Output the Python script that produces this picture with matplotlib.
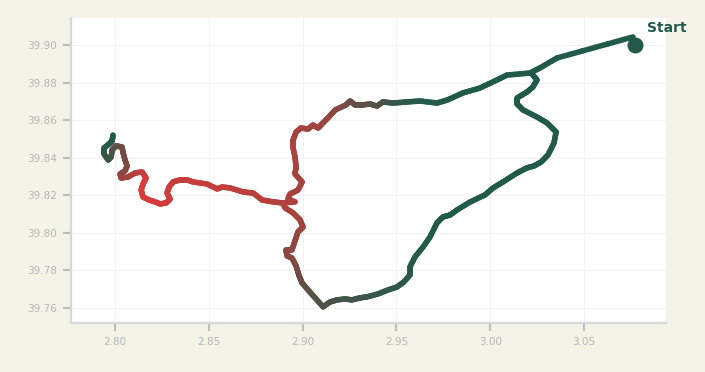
import numpy as np
import matplotlib
matplotlib.use("Agg")
import matplotlib.pyplot as plt
from matplotlib.collections import LineCollection
from matplotlib.colors import LinearSegmentedColormap

# ---- data: route traced as two polylines (lon, lat, colour value) ----
main_lon = [3.0761, 3.0356, 3.0265, 3.0212, 3.0089, 3.0036, 2.9945, 2.9855, 2.9770, 2.9716,
            2.9626, 2.9556, 2.9482, 2.9428, 2.9396, 2.9359, 2.9317, 2.9279, 2.9253, 2.9231,
            2.9173, 2.9135, 2.9103, 2.9082, 2.9055, 2.9029, 2.8991, 2.8965, 2.8949, 2.8949,
            2.8959, 2.8965, 2.8959, 2.8997, 2.8975, 2.8933, 2.8922, 2.8959, 2.8895, 2.8842,
            2.8784, 2.8736, 2.8682, 2.8613, 2.8570, 2.8544, 2.8490, 2.8416, 2.8384, 2.8346,
            2.8309, 2.8288, 2.8277, 2.8293, 2.8272, 2.8240, 2.8213, 2.8181, 2.8149, 2.8139,
            2.8149, 2.8165, 2.8144, 2.8107, 2.8069, 2.8032, 2.8027, 2.8053, 2.8064, 2.8053,
            2.8043, 2.8037, 2.8005, 2.7984, 2.7979, 2.7963, 2.7941, 2.7941, 2.7968, 2.7984,
            2.7989]
main_lat = [39.9043, 39.8931, 39.8878, 39.8851, 39.8840, 39.8814, 39.8771, 39.8745, 39.8707, 39.8691,
            39.8702, 39.8697, 39.8691, 39.8697, 39.8675, 39.8686, 39.8681, 39.8681, 39.8702, 39.8681,
            39.8654, 39.8612, 39.8580, 39.8558, 39.8574, 39.8553, 39.8558, 39.8537, 39.8494, 39.8452,
            39.8404, 39.8351, 39.8314, 39.8271, 39.8228, 39.8207, 39.8180, 39.8165, 39.8159, 39.8165,
            39.8175, 39.8212, 39.8218, 39.8239, 39.8244, 39.8234, 39.8260, 39.8271, 39.8282, 39.8282,
            39.8271, 39.8244, 39.8212, 39.8180, 39.8159, 39.8154, 39.8165, 39.8175, 39.8191, 39.8228,
            39.8260, 39.8292, 39.8324, 39.8319, 39.8297, 39.8292, 39.8314, 39.8330, 39.8356, 39.8388,
            39.8425, 39.8457, 39.8463, 39.8441, 39.8404, 39.8388, 39.8420, 39.8452, 39.8473, 39.8489,
            39.8521]
main_val = [0.00, 0.00, 0.00, 0.00, 0.00, 0.00, 0.00, 0.00, 0.00, 0.00,
            0.02, 0.05, 0.10, 0.15, 0.28, 0.30, 0.33, 0.36, 0.40, 0.42,
            0.55, 0.60, 0.64, 0.66, 0.67, 0.68, 0.70, 0.70, 0.71, 0.72,
            0.72, 0.72, 0.72, 0.70, 0.70, 0.72, 0.73, 0.74, 0.76, 0.78,
            0.80, 0.82, 0.84, 0.85, 0.86, 0.86, 0.87, 0.88, 0.88, 0.88,
            0.88, 0.90, 0.92, 0.93, 0.94, 0.94, 0.95, 0.96, 0.97, 0.98,
            0.98, 0.97, 0.90, 0.82, 0.75, 0.68, 0.62, 0.56, 0.52, 0.48,
            0.45, 0.42, 0.38, 0.30, 0.22, 0.15, 0.10, 0.06, 0.03, 0.01,
            0.00]

loop_lon = [3.0223, 3.0249, 3.0228, 3.0196, 3.0143, 3.0143, 3.0175, 3.0249, 3.0303, 3.0351,
            3.0340, 3.0308, 3.0271, 3.0233, 3.0196, 3.0143, 3.0068, 3.0015, 2.9972, 2.9892,
            2.9823, 2.9786, 2.9748, 2.9716, 2.9679, 2.9642, 2.9599, 2.9572, 2.9572, 2.9540,
            2.9503, 2.9455, 2.9402, 2.9343, 2.9306, 2.9263, 2.9226, 2.9183, 2.9146, 2.9109,
            2.9066, 2.9029, 2.8997, 2.8981, 2.8965, 2.8943, 2.8917, 2.8911, 2.8943, 2.8959,
            2.8975, 2.9002, 2.8986, 2.8949, 2.8906, 2.8895]
loop_lat = [39.8845, 39.8814, 39.8777, 39.8750, 39.8718, 39.8686, 39.8654, 39.8617, 39.8585, 39.8537,
            39.8479, 39.8415, 39.8377, 39.8356, 39.8346, 39.8319, 39.8271, 39.8239, 39.8202, 39.8164,
            39.8122, 39.8095, 39.8085, 39.8053, 39.7978, 39.7925, 39.7872, 39.7819, 39.7776, 39.7739,
            39.7712, 39.7696, 39.7675, 39.7659, 39.7654, 39.7643, 39.7648, 39.7643, 39.7632, 39.7606,
            39.7654, 39.7696, 39.7733, 39.7771, 39.7824, 39.7866, 39.7877, 39.7909, 39.7909, 39.7957,
            39.8005, 39.8031, 39.8069, 39.8106, 39.8133, 39.8159]
loop_val = [0.00, 0.00, 0.00, 0.00, 0.00, 0.00, 0.00, 0.00, 0.00, 0.00,
            0.00, 0.00, 0.00, 0.00, 0.00, 0.00, 0.00, 0.00, 0.00, 0.00,
            0.00, 0.00, 0.00, 0.00, 0.00, 0.00, 0.01, 0.02, 0.03, 0.04,
            0.05, 0.07, 0.09, 0.12, 0.14, 0.16, 0.17, 0.19, 0.21, 0.23,
            0.27, 0.31, 0.35, 0.40, 0.45, 0.50, 0.53, 0.56, 0.58, 0.60,
            0.63, 0.66, 0.69, 0.72, 0.74, 0.76]

start_lon = [3.0772]
start_lat = [39.9000]
start_label = "Start"

x_ticks = [2.80, 2.85, 2.90, 2.95, 3.00, 3.05]
y_ticks = [39.76, 39.78, 39.80, 39.82, 39.84, 39.86, 39.88, 39.90]

# ---- styling ----
BG = "#f5f2e7"
GREEN = "#225a4a"
RED = "#dc3a3a"
cmap = LinearSegmentedColormap.from_list("route", [GREEN, RED])

fig = plt.figure(figsize=(7.05, 3.72), dpi=100, facecolor=BG)
ax = fig.add_axes([0.1007, 0.1317, 0.844, 0.820])
ax.set_facecolor("white")


def draw(lon, lat, val):
    lon = np.asarray(lon); lat = np.asarray(lat); val = np.asarray(val)
    segs, cols = [], []
    n_sub = 6
    for i in range(len(lon) - 1):
        for k in range(n_sub):
            t0, t1 = k / n_sub, (k + 1) / n_sub
            p0 = (lon[i] + (lon[i + 1] - lon[i]) * t0, lat[i] + (lat[i + 1] - lat[i]) * t0)
            p1 = (lon[i] + (lon[i + 1] - lon[i]) * t1, lat[i] + (lat[i + 1] - lat[i]) * t1)
            segs.append([p0, p1])
            cols.append(val[i] + (val[i + 1] - val[i]) * (t0 + t1) / 2)
    lc = LineCollection(segs, colors=cmap(np.array(cols)), linewidths=4.0,
                        capstyle="round", joinstyle="round", zorder=3)
    ax.add_collection(lc)


draw(loop_lon, loop_lat, loop_val)
draw(main_lon, main_lat, main_val)

ax.plot(start_lon, start_lat, "o", color=GREEN, markersize=10.5, zorder=5)
ax.annotate(start_label, (start_lon[0], start_lat[0]), xytext=(12, 17),
            textcoords="offset pixels", ha="left", va="center",
            fontsize=10, fontweight="bold", color=GREEN, annotation_clip=False)

ax.set_xlim(2.7765, 3.0937)
ax.set_ylim(39.752, 39.9144)
ax.set_xticks(x_ticks)
ax.set_yticks(y_ticks)
ax.set_xticklabels([f"{v:.2f}" for v in x_ticks])
ax.set_yticklabels([f"{v:.2f}" for v in y_ticks])

for s in ["top", "right"]:
    ax.spines[s].set_visible(False)
for s in ["left", "bottom"]:
    ax.spines[s].set_color("#d8d8d8")
    ax.spines[s].set_linewidth(1.6)

ax.tick_params(axis="both", colors="#bdbdbd", labelcolor="#b5b5b5", length=6,
               width=1.5, labelsize=7.5, pad=4)
ax.grid(True, color="#f2f2f2", linewidth=0.8, zorder=0)
ax.set_axisbelow(True)

fig.savefig("out.png", dpi=100, facecolor=BG)
